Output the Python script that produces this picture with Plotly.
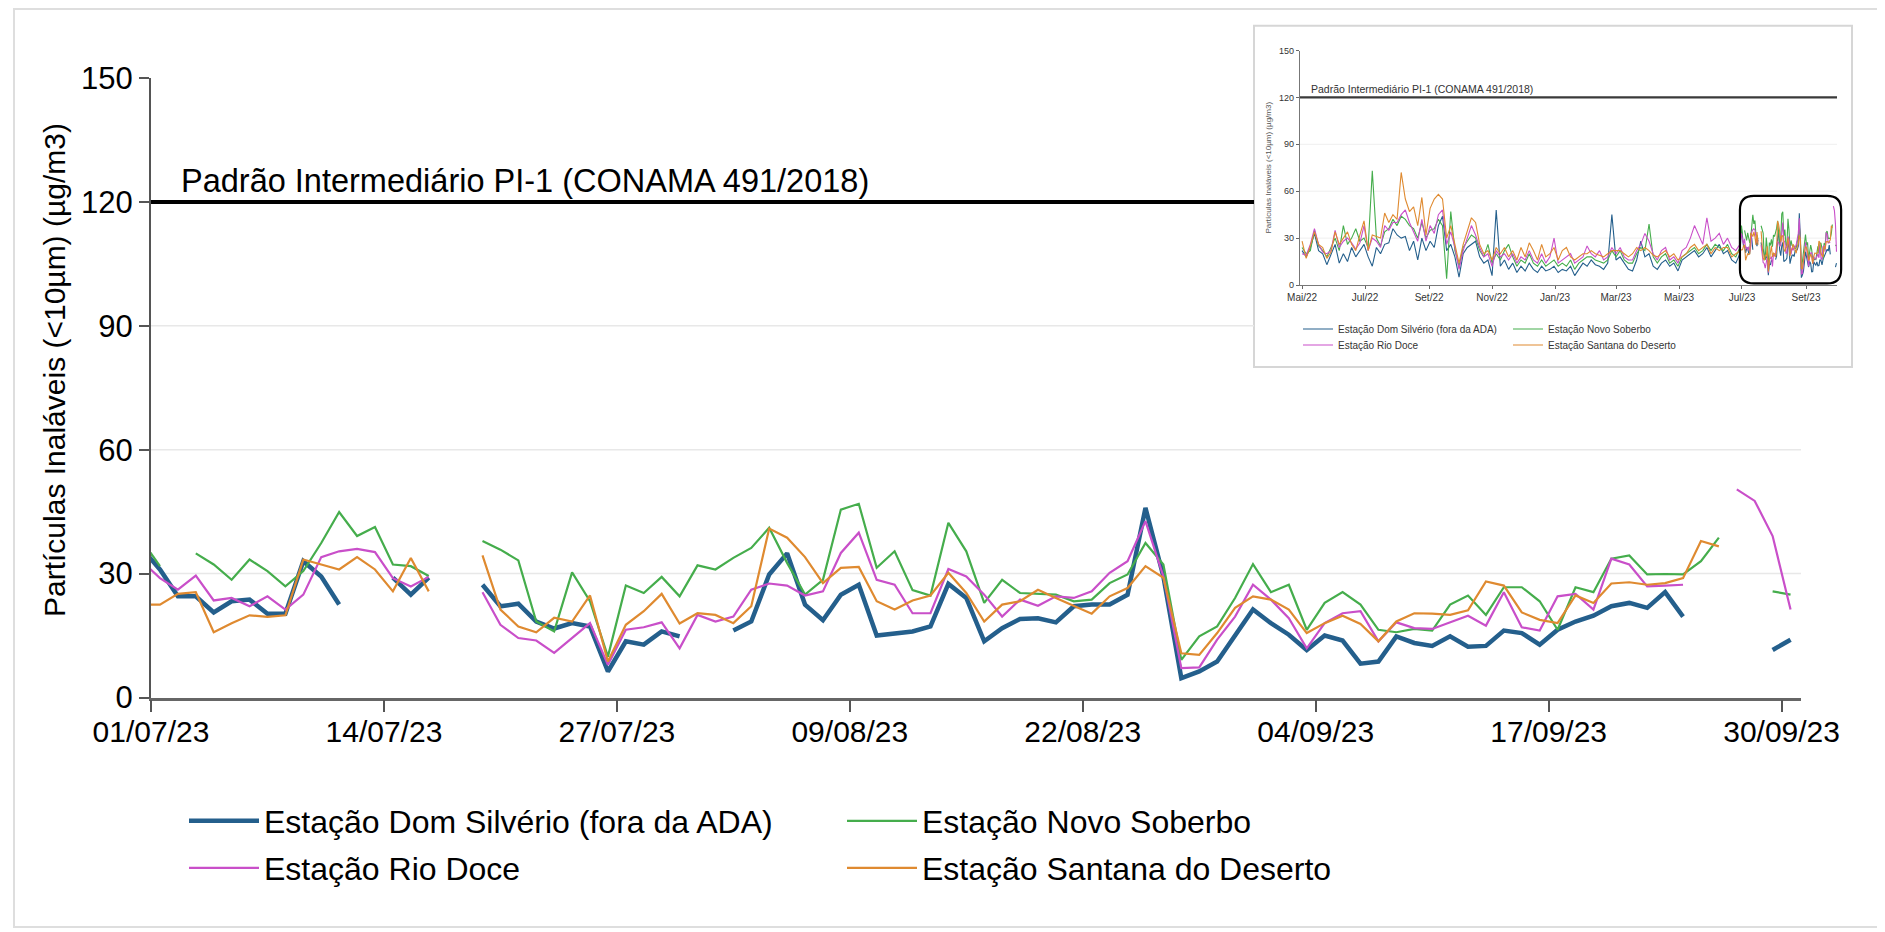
import plotly.graph_objects as go
import pandas as pd

# page body has an 8px margin: figure pixel = page pixel - 8
OX, OY = 8, 8
W, H = 1885 - OX, 932 - OY


def px(x):
    return (x - OX) / W


def py(y):
    return 1 - (y - OY) / H


# ---------------- main chart data (daily, 30/06/2023 .. 30/09/2023) ----------------
main_dates = pd.date_range("2023-06-30 12:00", periods=93, freq="D")

dom_silverio = [36, 31, 24.5, 24.5, 20.6, 23.3, 23.7, 20.3, 20.3, 33.0, 29.3, 22.5, None, None, 29.0, 24.9, 29.0,
                None, None, 27.3, 22.1, 22.7, 18.4, 16.7, 18.0, 17.2, 6.3, 13.6, 12.8, 16.0, 14.8, None, None,
                16.2, 18.4, 29.8, 34.9, 22.5, 18.7, 24.9, 27.3, 15.0, 15.4, 16.0, 17.2, 27.5, 24.1, 13.6, 16.8,
                19.0, 19.2, 18.2, 22.1, 22.5, 22.5, 24.9, 45.9, 29.3, 4.7, 6.3, 8.7, 14.8, 21.3, 18.0, 15.2, 11.5,
                15.0, 13.8, 8.2, 8.7, 14.8, 13.2, 12.5, 14.8, 12.3, 12.5, 16.2, 15.6, 12.8, 16.4, 18.4, 19.8, 22.1,
                22.9, 21.7, 25.5, 19.6, None, None, None, None, 11.5, 14.0]

novo_soberbo = [38, 31.8, None, 34.9, 32.2, 28.5, 33.4, 30.6, 26.9, 30.6, 37.4, 44.9, 39.1, 41.3, 32.2, 31.8, 29.4,
                None, None, 37.9, 35.8, 33.2, 18.4, 16.0, 30.3, 23.3, 9.9, 27.1, 25.3, 29.2, 24.5, 32.0, 31.0,
                33.8, 36.2, 41.1, 32.6, 24.9, 28.5, 45.5, 46.9, 31.4, 35.4, 26.0, 24.7, 42.3, 35.4, 22.9, 28.5,
                25.3, 25.1, 24.9, 23.3, 23.7, 27.7, 29.8, 37.4, 32.2, 9.1, 14.8, 17.2, 24.1, 32.3, 25.5, 27.3, 16.4,
                22.9, 25.5, 22.5, 16.4, 15.8, 16.6, 16.2, 22.5, 24.7, 20.0, 26.7, 26.7, 23.3, 16.4, 26.7, 25.5, 33.6,
                34.4, 29.8, 29.9, 29.8, 33.0, 38.7, None, None, 25.7, 24.9]

rio_doce = [33, 28.9, 26.1, 29.5, 23.5, 24.1, 22.1, 24.5, 21.3, 24.9, 34.0, 35.4, 36.0, 35.2, 28.9, 26.9, 29.2,
            None, None, 25.5, 17.6, 14.4, 13.8, 10.8, 14.4, 18.0, 7.9, 16.4, 17.0, 18.2, 11.9, 20.0, 18.4,
            19.6, 26.1, 27.6, 27.1, 24.7, 25.7, 35.0, 39.9, 28.5, 27.3, 20.4, 20.4, 31.1, 29.3, 24.9, 19.6,
            23.7, 22.2, 24.5, 24.1, 25.7, 30.2, 33.0, 42.7, 29.3, 7.1, 7.3, 14.0, 19.6, 27.3, 23.7, 19.2, 11.9,
            18.0, 20.4, 20.9, 13.6, 18.2, 16.8, 16.6, 18.2, 19.8, 17.4, 25.5, 17.0, 16.2, 24.5, 25.1, 21.3, 33.6,
            32.2, 26.9, 27.1, 27.3, None, None, 50.4, 47.6, 39.1, 21.3]

santana_deserto = [22.5, 22.5, 25.1, 25.5, 15.8, 18.0, 19.9, 19.5, 19.9, 33.4, 32.2, 31.0, 34.0, 31.0, 25.7, 33.8, 25.7,
                   None, None, 34.4, 21.3, 17.2, 15.8, 19.3, 18.4, 24.7, 8.7, 17.6, 20.9, 25.1, 17.9, 20.4, 20.0,
                   18.0, 22.1, 40.9, 38.7, 34.0, 27.7, 31.4, 31.6, 23.3, 21.3, 23.5, 24.7, 30.2, 25.3, 18.4, 22.5,
                   23.3, 26.1, 24.1, 22.1, 20.3, 24.5, 26.5, 31.8, 29.0, 10.7, 10.3, 15.6, 21.7, 24.5, 23.7, 21.3, 15.6,
                   18.0, 19.8, 17.8, 13.6, 18.4, 20.4, 20.3, 20.0, 21.1, 28.1, 27.1, 20.6, 18.8, 18.0, 24.7, 22.9, 27.6,
                   27.9, 27.3, 27.7, 28.9, 37.9, 36.6, None, None, None, None]

# ---------------- inset data (every 4 days, 01/05/2022 .. 29/06/2023) ----------------
inset_dates = pd.date_range("2022-05-01", "2023-06-29", freq="4D")
inset_dom = [22, 18, 24, 33, 22, 20, 13, 19, 26, 14, 20, 15, 24, 18, 22, 26, 18, 12, 24, 20, 26, 27, 36, 32, 30, 31,
             22, 28, 16, 30, 22, 28, 24, 38, 44, 22, 26, 18, 5, 20, 24, 26, 28, 18, 14, 16, 6, 48, 12, 16, 10, 14,
             8, 12, 9, 14, 10, 8, 12, 9, 10, 12, 8, 10, 9, 12, 6, 10, 14, 12, 16, 13, 12, 10, 14, 45, 16, 18, 14,
             10, 9, 16, 28, 18, 20, 12, 10, 14, 16, 12, 14, 9, 16, 18, 20, 22, 18, 20, 24, 18, 22, 26, 20, 22, 16,
             14, 20]
inset_novo = [24, 20, 22, 35, 25, 22, 18, 24, 30, 22, 38, 26, 30, 36, 28, 30, 24, 73, 30, 25, 34, 36, 42, 38, 44, 42,
              38, 36, 30, 40, 30, 35, 36, 42, 38, 4, 47, 22, 12, 24, 28, 32, 30, 22, 18, 26, 14, 20, 16, 22, 26, 18,
              12, 16, 14, 20, 14, 12, 16, 12, 14, 16, 12, 14, 12, 16, 10, 14, 16, 18, 18, 16, 15, 14, 16, 22, 18, 22,
              16, 14, 14, 20, 24, 22, 39, 18, 14, 18, 20, 14, 16, 12, 18, 20, 22, 24, 20, 22, 26, 22, 26, 24, 22, 26,
              20, 18, 24]
inset_rio = [20, 19, 26, 36, 26, 21, 20, 22, 35, 24, 28, 30, 27, 23, 27, 38, 22, 30, 28, 24, 38, 35, 40, 40, 45, 48,
             40, 34, 28, 42, 28, 38, 33, 45, 48, 26, 34, 24, 10, 22, 30, 38, 32, 24, 18, 20, 12, 22, 18, 20, 16, 20,
             14, 18, 16, 22, 16, 14, 20, 14, 18, 30, 14, 16, 18, 20, 14, 16, 18, 25, 20, 18, 22, 16, 18, 24, 20, 24,
             18, 16, 16, 22, 26, 33, 28, 20, 16, 22, 24, 16, 18, 14, 22, 24, 30, 38, 32, 26, 43, 28, 30, 33, 26, 30,
             24, 22, 26]
inset_santana = [28, 17, 25, 34, 26, 24, 17, 21, 34, 26, 30, 34, 26, 22, 32, 41, 22, 32, 31, 30, 46, 40, 45, 42, 72,
                 55, 47, 50, 38, 56, 32, 49, 55, 58, 55, 30, 38, 26, 14, 26, 34, 43, 40, 26, 20, 22, 16, 24, 20, 24,
                 18, 22, 16, 24, 18, 27, 22, 16, 26, 18, 20, 24, 16, 22, 24, 18, 16, 18, 20, 20, 22, 20, 19, 18, 20,
                 22, 22, 22, 20, 18, 20, 24, 22, 24, 22, 19, 18, 20, 22, 18, 20, 16, 18, 20, 24, 26, 22, 24, 26, 20,
                 24, 22, 24, 24, 18, 20, 22]

inset_all_dates = list(inset_dates) + list(main_dates)
series = [
    ("Estação Dom Silvério (fora da ADA)", "#245f8c", 4.5, dom_silverio, inset_dom, "legend", "legend3"),
    ("Estação Novo Soberbo", "#45ad4c", 2.2, novo_soberbo, inset_novo, "legend", "legend3"),
    ("Estação Rio Doce", "#c94fc9", 2.2, rio_doce, inset_rio, "legend2", "legend4"),
    ("Estação Santana do Deserto", "#df8a30", 2.2, santana_deserto, inset_santana, "legend2", "legend4"),
]

ytitle = "Partículas Inaláveis (<10µm) (µg/m3)"
limit_value = 120
limit_text = "Padrão Intermediário PI-1 (CONAMA 491/2018)"
y_ticks = [0, 30, 60, 90, 120, 150]
grid_values = [30, 60, 90]
inset_tickvals = ["2022-05-01", "2022-07-01", "2022-09-01", "2022-11-01", "2023-01-01",
                  "2023-03-01", "2023-05-01", "2023-07-01", "2023-09-01"]
inset_ticktext = ["Mai/22", "Jul/22", "Set/22", "Nov/22", "Jan/23", "Mar/23", "Mai/23", "Jul/23", "Set/23"]

# ---------------- layout geometry (page pixels) ----------------
FONT = "Liberation Sans, Arial, sans-serif"
MAIN_X_RANGE = [pd.Timestamp("2023-07-01 00:00"), pd.Timestamp("2023-10-01 02:00")]
MAIN_DOM_X = [px(151), px(1801)]
MAIN_DOM_Y = [py(697.5), py(78)]
INSET_X_RANGE = [pd.Timestamp("2022-04-29"), pd.Timestamp("2023-10-01")]
INSET_DOM_X = [px(1300), px(1837)]
INSET_DOM_Y = [py(285), py(50.5)]
BOX = dict(x0=px(1254), x1=px(1852), y0=py(367), y1=py(25.7))


def inset_xp(t):
    f = (pd.Timestamp(t) - INSET_X_RANGE[0]) / (INSET_X_RANGE[1] - INSET_X_RANGE[0])
    return INSET_DOM_X[0] + f * (INSET_DOM_X[1] - INSET_DOM_X[0])


def inset_yp(v):
    return INSET_DOM_Y[0] + v / 150 * (INSET_DOM_Y[1] - INSET_DOM_Y[0])


def main_x_from_paper(p):
    f = (p - MAIN_DOM_X[0]) / (MAIN_DOM_X[1] - MAIN_DOM_X[0])
    return MAIN_X_RANGE[0] + f * (MAIN_X_RANGE[1] - MAIN_X_RANGE[0])


fig = go.Figure()

for name, color, width, vals, ivals, leg, ileg in series:
    fig.add_trace(go.Scatter(x=main_dates, y=vals, mode="lines", name=name,
                             line=dict(color=color, width=width), connectgaps=False,
                             legend=leg, xaxis="x", yaxis="y", hoverinfo="skip"))
for name, color, width, vals, ivals, leg, ileg in series:
    fig.add_trace(go.Scatter(x=inset_all_dates, y=list(ivals) + list(vals), mode="lines", name=name,
                             line=dict(color=color, width=1.1), connectgaps=False,
                             legend=ileg, xaxis="x2", yaxis="y2", hoverinfo="skip"))

shapes = []
# outer card border
shapes.append(dict(type="rect", xref="paper", yref="paper", x0=px(14), x1=px(1878), y0=py(927), y1=py(9),
                   line=dict(color="#dedede", width=2), fillcolor="rgba(0,0,0,0)", layer="below"))
inset_left_date = main_x_from_paper(BOX["x0"])
for g in grid_values:
    x1 = inset_left_date if g >= 90 else MAIN_X_RANGE[1]
    shapes.append(dict(type="line", xref="x", yref="y", x0=MAIN_X_RANGE[0], x1=x1, y0=g, y1=g,
                       line=dict(color="#e8e8e8", width=1.5), layer="below"))
shapes.append(dict(type="line", xref="x", yref="y", x0=MAIN_X_RANGE[0], x1=inset_left_date,
                   y0=limit_value, y1=limit_value, line=dict(color="black", width=4), layer="above"))
# inset card
shapes.append(dict(type="rect", xref="paper", yref="paper", **BOX, line=dict(color="#d6d6d6", width=2),
                   fillcolor="white", layer="below"))
for g in grid_values:
    shapes.append(dict(type="line", xref="x2", yref="y2", x0=INSET_X_RANGE[0], x1=INSET_X_RANGE[1], y0=g, y1=g,
                       line=dict(color="#efefef", width=1), layer="below"))
shapes.append(dict(type="line", xref="x2", yref="y2", x0=INSET_X_RANGE[0], x1=INSET_X_RANGE[1],
                   y0=limit_value, y1=limit_value, line=dict(color="#3a3a3a", width=2.2), layer="above"))
# highlight of the zoomed period (Jul-Sep 2023) in the inset
hx0, hx1 = inset_xp("2023-06-29"), inset_xp("2023-10-05")
hy0, hy1 = inset_yp(1), inset_yp(57)
rx, ry = 14 / W, 14 / H
path = (f"M {hx0 + rx},{hy0} L {hx1 - rx},{hy0} Q {hx1},{hy0} {hx1},{hy0 + ry} "
        f"L {hx1},{hy1 - ry} Q {hx1},{hy1} {hx1 - rx},{hy1} L {hx0 + rx},{hy1} "
        f"Q {hx0},{hy1} {hx0},{hy1 - ry} L {hx0},{hy0 + ry} Q {hx0},{hy0} {hx0 + rx},{hy0} Z")
shapes.append(dict(type="path", xref="paper", yref="paper", path=path, line=dict(color="black", width=2.2),
                   fillcolor="rgba(0,0,0,0)", layer="above"))

annotations = [
    dict(xref="x", yref="y", x=MAIN_X_RANGE[0] + pd.Timedelta(hours=38), y=limit_value, text=limit_text,
         showarrow=False, xanchor="left", yanchor="bottom", yshift=1, font=dict(size=32.5, color="black", family=FONT)),
    dict(xref="x2", yref="y2", x=pd.Timestamp("2022-05-08"), y=limit_value, text=limit_text,
         showarrow=False, xanchor="left", yanchor="bottom", yshift=0, font=dict(size=10.5, color="#333", family=FONT)),
    # main y-axis title
    dict(xref="paper", yref="paper", x=px(54), y=py(370), text=ytitle, textangle=-90, showarrow=False,
         xanchor="center", yanchor="middle", font=dict(size=30, color="black", family=FONT)),
]

fig.update_layout(
    template="none",
    width=W, height=H, autosize=False,
    margin=dict(l=0, r=0, t=0, b=0, pad=0),
    paper_bgcolor="white", plot_bgcolor="rgba(0,0,0,0)",
    font=dict(family=FONT, color="black"),
    shapes=shapes, annotations=annotations,
    xaxis=dict(domain=MAIN_DOM_X, anchor="y", type="date", range=MAIN_X_RANGE, automargin=False,
               tick0="2023-07-01", dtick=13 * 86400000, tickformat="%d/%m/%y",
               ticks="outside", ticklen=12, tickwidth=1.5, tickcolor="#555", ticklabelstandoff=-6,
               showline=True, linecolor="#666", linewidth=2.5, showgrid=False, zeroline=False,
               tickfont=dict(size=30, color="black")),
    yaxis=dict(domain=MAIN_DOM_Y, anchor="x", range=[0, 150], tickvals=y_ticks, automargin=False,
               ticks="outside", ticklen=10, tickwidth=1.5, tickcolor="#555",
               showline=True, linecolor="#555", linewidth=2, showgrid=False, zeroline=False,
               tickfont=dict(size=31, color="black")),
    xaxis2=dict(domain=INSET_DOM_X, anchor="y2", type="date", range=INSET_X_RANGE, automargin=False,
                tickvals=inset_tickvals, ticktext=inset_ticktext,
                ticks="outside", ticklen=3, tickwidth=1, tickcolor="#666",
                showline=True, linecolor="#777", linewidth=1.2, showgrid=False, zeroline=False,
                tickfont=dict(size=10, color="#333")),
    yaxis2=dict(domain=INSET_DOM_Y, anchor="x2", range=[0, 150], tickvals=y_ticks, automargin=False,
                ticks="outside", ticklen=3, tickwidth=1, tickcolor="#666",
                showline=True, linecolor="#777", linewidth=1.2, showgrid=False, zeroline=False,
                tickfont=dict(size=9, color="#333"),
                title=dict(text=ytitle, font=dict(size=8, color="#555"), standoff=6)),
    legend=dict(orientation="h", x=px(184), y=py(821), xanchor="left", yanchor="middle",
                font=dict(size=32, color="black"), itemwidth=70, entrywidth=573, bgcolor="rgba(0,0,0,0)",
                traceorder="normal"),
    legend2=dict(orientation="h", x=px(184), y=py(868), xanchor="left", yanchor="middle",
                 font=dict(size=32, color="black"), itemwidth=70, entrywidth=573, bgcolor="rgba(0,0,0,0)",
                 traceorder="normal"),
    legend3=dict(orientation="h", x=px(1298), y=py(329), xanchor="left", yanchor="middle",
                 font=dict(size=10, color="#333"), itemwidth=30, entrywidth=165, bgcolor="rgba(0,0,0,0)",
                 traceorder="normal"),
    legend4=dict(orientation="h", x=px(1298), y=py(345), xanchor="left", yanchor="middle",
                 font=dict(size=10, color="#333"), itemwidth=30, entrywidth=165, bgcolor="rgba(0,0,0,0)",
                 traceorder="normal"),
    showlegend=True,
)

fig.write_html("out.html")
